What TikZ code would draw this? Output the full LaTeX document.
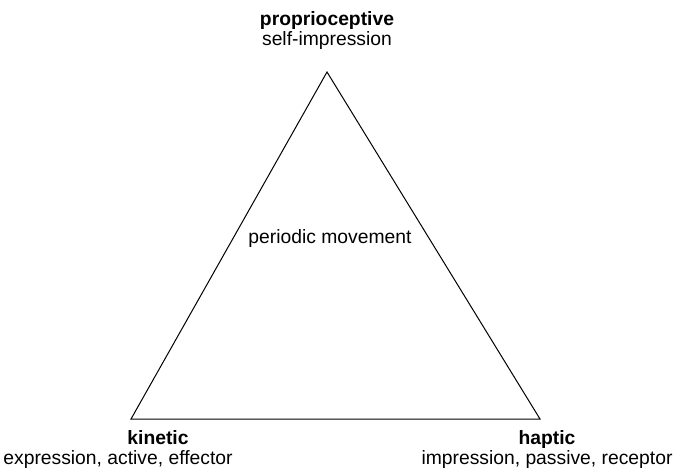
\documentclass[tikz,border=0pt]{standalone}
\usepackage{fontspec}
\setmainfont{Liberation Sans}
\begin{document}
\begin{tikzpicture}[x=1pt,y=-1pt,
  lbl/.style={inner sep=0pt,anchor=base,font=\fontsize{19.3}{22}\selectfont},
  ttl/.style={inner sep=0pt,anchor=base,font=\fontsize{19.3}{22}\selectfont\bfseries}]
\useasboundingbox (0,0) rectangle (684,469);
% corners of the triangle
\coordinate (top) at (327,72);
\coordinate (left) at (131,419);
\coordinate (right) at (540,419);
\draw[line width=1pt,line join=miter] (top) -- (left) -- (right) -- cycle;
% vertex labels (placed by baseline)
\node[ttl] (ptitle) at (327,25) {proprioceptive};
\node[lbl] (psub) at (327,45) {self-impression};
\node[lbl] (center) at (330,243) {periodic movement};
\node[ttl] (ktitle) at (158,444) {kinetic};
\node[lbl] (ksub) at (118,464) {expression, active, effector};
\node[ttl] (htitle) at (547,444) {haptic};
\node[lbl] (hsub) at (547,464) {impression, passive, receptor};
\end{tikzpicture}
\end{document}
